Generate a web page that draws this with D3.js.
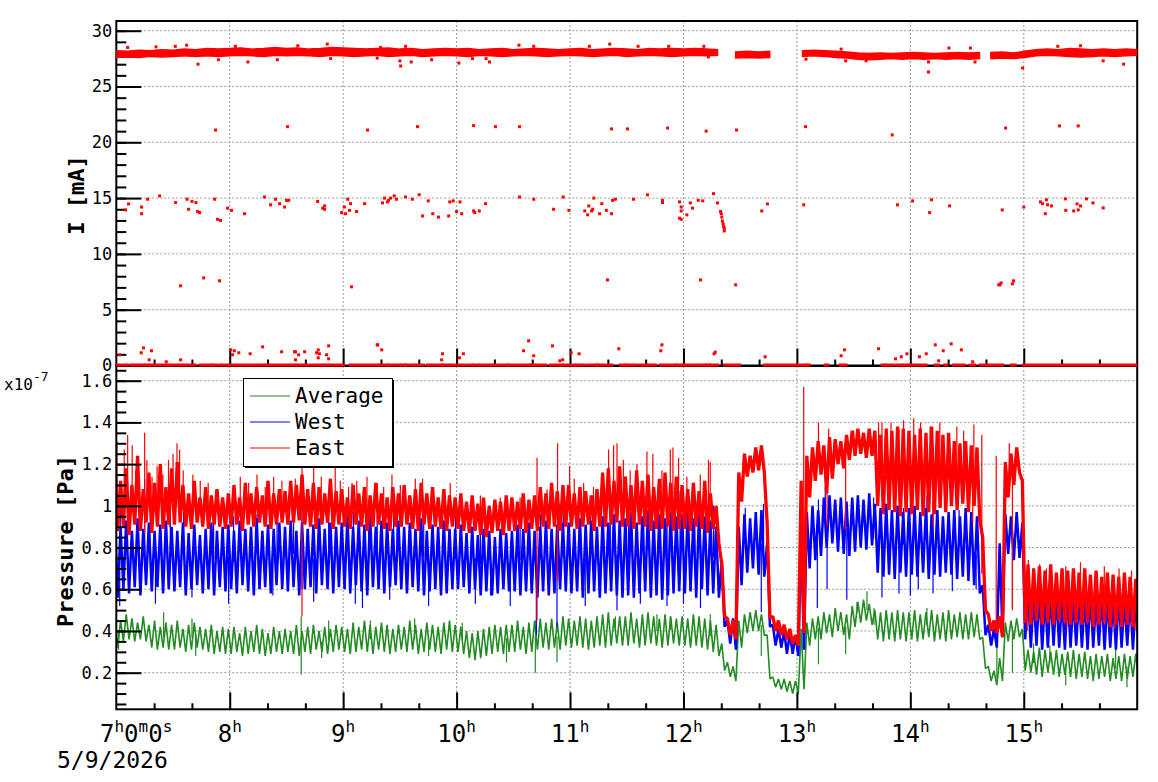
<!DOCTYPE html>
<meta charset="utf-8">
<head>
<style>
  body { margin: 0; background: #fff; }
  text { font-family: "DejaVu Sans Mono", monospace; fill: #000; }
  .grid line { stroke: #9a9a9a; stroke-dasharray: 2,2; stroke-width: 1; }
</style>
<script src="https://d3js.org/d3.v7.min.js"></script>
</head>
<body>
<svg id="chart" width="1158" height="782"></svg>
<script>
// ---- beam current (top pad), mA ----
// dense band near 28 mA, split where the beam was off
var bandSegs = [[7.00, 12.30], [12.46, 12.76], [13.05, 14.61], [14.71, 16.00]];
var bandHi = [
  [28.2, 28.15, 28.25, 28.2, 28.3, 28.25, 28.35, 28.3, 28.4, 28.35,
   28.4, 28.45, 28.35, 28.4, 28.5, 28.4, 28.45, 28.35, 28.4, 28.5,
   28.45, 28.4, 28.35, 28.4, 28.45, 28.35, 28.4, 28.3, 28.35, 28.4,
   28.35, 28.4, 28.3, 28.35, 28.4, 28.3, 28.35, 28.4, 28.35, 28.3,
   28.35, 28.4, 28.3, 28.35, 28.4, 28.35, 28.3, 28.4, 28.35, 28.4,
   28.35, 28.4, 28.35, 28.3],
  [28.1, 28.15, 28.1, 28.15],
  [28.2, 28.25, 28.2, 28.15, 28.1, 28.0, 27.95, 28.0, 27.95, 28.0, 28.05, 28.0, 27.95, 28.0, 28.05, 28.0, 28.05],
  [28.05, 28.1, 28.0, 28.15, 28.3, 28.35, 28.3, 28.4, 28.35, 28.3, 28.35, 28.3, 28.35, 28.3]
];
var bandLo = [
  [27.6, 27.65, 27.6, 27.7, 27.65, 27.7, 27.75, 27.7, 27.75, 27.7,
   27.75, 27.8, 27.75, 27.7, 27.8, 27.75, 27.8, 27.75, 27.7, 27.8,
   27.75, 27.7, 27.75, 27.8, 27.7, 27.75, 27.8, 27.7, 27.75, 27.8,
   27.75, 27.7, 27.8, 27.75, 27.7, 27.75, 27.8, 27.75, 27.7, 27.75,
   27.8, 27.75, 27.7, 27.75, 27.8, 27.7, 27.75, 27.8, 27.75, 27.7,
   27.75, 27.8, 27.75, 27.8],
  [27.55, 27.6, 27.55, 27.6],
  [27.7, 27.75, 27.7, 27.6, 27.55, 27.45, 27.4, 27.45, 27.5, 27.45, 27.5, 27.45, 27.5, 27.45, 27.5, 27.45, 27.5],
  [27.5, 27.55, 27.5, 27.6, 27.75, 27.8, 27.75, 27.7, 27.65, 27.7, 27.75, 27.7, 27.75, 27.8]
];
// runs of readings sitting at 0 mA [from, to] in hours
var zeroRuns = [[7.006,7.035],[7.064,7.094],[7.123,7.182],[7.205,7.241],[7.256,7.276],[7.294,7.461],[7.476,7.696],[7.740,7.829],[7.844,7.888],[7.917,7.990],[8.005,8.298],[8.313,8.578],[8.593,8.681],[8.710,8.827],[8.842,9.004],[9.063,9.303],[9.321,9.386],[9.400,9.444],[9.468,9.504],[9.518,9.548],[9.556,9.621],[9.636,9.709],[9.744,9.871],[9.880,9.929],[9.944,9.980],[10.009,10.062],[10.092,10.136],[10.156,10.194],[10.209,10.312],[10.332,10.444],[10.458,10.634],[10.650,10.782],[10.826,10.929],[10.943,11.046],[11.055,11.119],[11.149,11.237],[11.243,11.311],[11.340,11.370],[11.443,11.487],[11.496,11.590],[11.619,11.654],[11.672,11.701],[11.722,11.751],[11.795,11.890],[11.913,11.937],[11.948,11.972],[11.987,12.001],[12.016,12.148],[12.163,12.192],[12.201,12.230],[12.236,12.301],[12.362,12.495],[12.715,13.074],[13.089,13.109],[13.250,13.274],[13.383,13.433],[13.750,13.779],[13.794,13.852],[13.882,13.926],[13.940,13.970],[13.984,14.014],[14.035,14.138],[14.220,14.249],[14.302,14.323],[14.381,14.475],[14.528,14.566],[14.616,14.816],[14.890,14.925],[14.998,16.0]];
// single readings away from the band [hour, mA]
var currentPts = [
  [7.72,27.0],[7.90,27.4],[8.16,27.2],[8.42,27.4],[8.89,27.5],[7.10,28.5],[7.52,28.6],[7.62,28.7],[8.86,28.8],[9.30,27.55],[9.507,26.84],[9.50,27.3],[9.60,27.2],[9.78,27.4],[10.02,27.1],[10.14,27.5],[10.26,27.5],[10.29,27.2],[9.33,28.5],[9.55,28.6],[10.55,28.7],[10.68,28.6],[11.17,28.6],[11.35,28.8],[11.87,28.6],[12.18,28.6],[12.22,27.65],[13.08,27.45],[13.39,28.35],[13.43,27.3],[13.61,27.3],[14.16,27.2],[14.16,26.3],[14.34,28.45],[14.53,28.45],[14.57,27.2],[14.99,26.66],[15.70,27.3],[15.88,27.0],[7.35,28.55],[8.05,28.6],[8.6,28.65],[11.6,28.6],[15.3,28.6],[15.5,28.65],
  [7.875,21.1],[8.51,21.4],[9.215,21.1],[9.656,21.4],[10.15,21.5],[10.343,21.4],[10.555,21.4],[11.366,21.2],[11.506,21.2],[11.86,21.28],[12.20,21.0],[12.468,21.1],[13.076,21.4],[13.84,20.66],[14.84,21.28],[15.315,21.47],[15.48,21.47],
  [7.082,13.94],[7.108,14.48],[7.223,14.2],[7.223,13.6],[7.276,14.9],[7.382,15.2],[7.523,14.6],[7.623,14.9],[7.637,14.0],[7.667,14.7],[7.702,14.6],[7.717,13.8],[7.734,13.7],[7.867,14.9],[7.893,13.1],[7.919,13.0],[7.981,14.1],[8.016,13.9],[8.131,13.6],[8.307,15.1],[8.36,14.4],[8.404,14.9],[8.44,14.5],[8.484,14.2],[8.50,14.8],[8.52,14.8],[8.775,14.7],[8.82,14.1],[8.836,14.3],[8.836,14.0],[8.986,13.7],[9.01,14.2],[9.02,13.6],[9.04,14.9],[9.056,13.9],[9.065,14.5],[9.118,13.8],[9.189,14.5],
  [9.347,14.57],[9.365,15.0],[9.39,14.66],[9.40,14.8],[9.418,15.0],[9.45,15.2],[9.47,14.9],[9.55,15.1],[9.61,14.9],[9.67,15.3],[9.70,13.4],[9.75,14.75],[9.79,13.6],[9.84,13.3],[9.93,13.4],[9.94,14.66],[9.97,14.75],[10.0,13.8],[10.03,14.66],[10.045,13.6],[10.15,13.85],[10.16,13.7],[10.20,13.85],[10.255,14.5],[10.555,15.1],[10.68,14.9],[10.855,14.0],[10.94,15.1],[10.99,13.9],[11.13,13.85],[11.155,13.5],[11.165,14.3],[11.19,13.85],[11.20,14.0],[11.21,15.0],[11.26,13.6],[11.28,14.5],[11.32,13.9],[11.366,13.6],[11.375,14.8],[11.40,14.9],
  [11.56,14.9],[11.683,15.3],[11.815,14.8],[11.815,14.6],[11.965,14.66],[11.965,13.2],[11.98,14.2],[11.98,13.85],[11.98,13.1],[12.03,13.5],[12.06,14.57],[12.08,14.1],[12.13,14.8],[12.17,14.75],[12.265,15.4],[12.30,14.57],
  [12.327,13.8],[12.333,13.6],[12.338,13.3],[12.343,12.95],[12.349,12.7],[12.354,12.45],[12.36,12.3],[12.36,12.06],
  [12.69,13.85],[12.74,14.48],[13.06,14.4],
  [13.887,14.4],[14.02,14.75],[14.187,14.85],[14.17,13.7],[14.346,14.3],[14.81,13.94],[15.0,14.2],[15.147,14.66],[15.165,14.5],[15.2,14.85],[15.21,14.4],[15.19,13.6],[15.245,14.3],[15.367,14.93],[15.37,13.9],[15.44,13.85],[15.47,14.48],[15.5,14.3],[15.48,13.94],[15.553,14.93],[15.61,14.57],[15.70,14.12],
  [7.567,7.14],[7.77,7.85],[7.91,7.59],[9.074,7.05],[11.33,7.67],[12.15,7.67],[12.46,7.23],[14.78,7.23],[14.79,7.23],[14.80,7.4],[14.90,7.32],[14.91,7.59],
  [7.03,0.96],[7.24,1.58],[7.22,1.14],[7.31,1.32],[7.29,0.51],[7.44,0.33],[7.567,0.51],[8.008,1.4],[8.025,0.96],[8.04,1.32],[8.08,1.14],[8.18,1.05],[8.29,1.67],[8.457,1.23],[8.571,1.23],[8.58,1.23],[8.607,0.96],[8.58,0.51],[8.66,1.23],[8.766,1.14],[8.78,1.4],[8.79,1.05],[8.78,0.69],[8.854,0.96],[8.872,1.76],[8.872,0.6],[9.30,1.85],[9.305,1.85],[9.34,1.4],[9.876,1.05],[9.868,0.51],[10.026,0.69],[10.06,1.05],[10.59,1.32],[10.635,2.21],[10.68,0.87],[10.845,1.76],[10.91,0.42],[10.935,0.51],[11.01,1.14],[11.08,1.05],[11.43,1.5],[11.81,1.85],[11.80,1.32],[12.27,1.05],[12.28,1.2],[12.72,0.78],[13.39,0.87],[13.42,1.4],[13.72,1.5],[13.87,0.6],[13.92,0.78],[13.97,1.05],[14.08,0.78],[14.14,1.05],[14.22,1.85],[14.25,0.42],[14.29,1.32],[14.36,1.94],[14.45,1.4],[14.55,0.33]
];

// ---- pressure (bottom pad), units of 1e-9 Pa (axis shows x1e-7) ----
// highest and lowest reading in each 3-minute slice, 7:00 to 16:00
var pStart = 7, pStep = 0.05;
var eastHi = [122,112,118,110,124,108,116,111,120,109, 118,121,110,106,112,104,109,105,108,104,
  106,110,104,111,106,109,105,112,106,108, 107,112,110,115,108,111,109,106,113,107,
  108,104,110,106,109,105,111,106,104,109, 106,110,105,108,111,106,109,104,108,105,
  104,106,102,105,101,104,100,103,102,105, 104,102,106,103,105,109,106,111,107,110,
  110,106,109,107,105,108,116,118,112,119, 114,110,117,112,115,109,113,116,111,114,
  110,108,111,107,112,106,100,72,46,45, 116,125,124,128,129,92,47,45,43,41,
  38,112,124,128,131,129,133,132,131,134, 136,137,135,137,136,134,137,136,138,137,
  136,134,137,135,138,136,134,135,131,130, 131,129,128,85,48,45,47,121,125,128,
  112,72,70,71,69,72,68,70,69,70, 68,70,67,69,66,68,67,66,68,66,65];
var eastLo = [88,90,86,91,88,92,87,90,89,91, 91,92,90,89,92,90,89,91,90,89,
  90,91,88,91,90,92,90,89,91,92, 91,92,93,91,90,89,91,92,89,91,
  90,89,91,90,88,90,91,89,88,90, 90,91,89,88,91,89,90,89,88,90,
  89,88,87,88,86,85,87,88,86,88, 88,89,87,89,88,90,89,90,88,90,
  90,89,90,91,88,90,90,91,92,90, 90,89,91,90,88,89,89,90,88,89,
  89,88,90,89,87,89,82,47,38,36, 102,114,116,117,116,46,40,38,36,34,
  33,39,104,112,115,106,113,120,118,122, 124,125,123,124,100,96,98,97,95,97,
  96,98,95,97,96,99,97,100,98,101, 97,100,93,50,40,39,37,104,110,116,
  44,43,45,43,44,43,45,44,43,44, 43,44,42,43,44,42,43,42,43,42,42];
var westHi = [95,90,93,88,94,89,92,88,91,93, 90,88,92,87,91,86,89,92,88,90,
  91,88,93,89,90,94,88,91,89,92, 90,93,88,92,89,91,94,89,92,90,
  92,95,90,93,91,96,90,93,92,89, 93,90,92,89,94,88,91,90,93,89,
  89,91,87,90,86,89,88,85,89,87, 88,91,89,92,88,90,93,89,91,92,
  92,89,94,91,93,90,95,92,96,93, 94,97,92,95,98,93,96,94,97,95,
  96,98,94,97,95,93,90,74,45,46, 90,96,94,97,98,82,43,41,40,39,
  38,86,97,100,98,104,105,103,104,102, 104,105,103,106,101,99,101,98,100,97,
  99,100,97,99,96,98,95,97,98,95, 99,97,95,62,43,41,82,96,95,97,
  92,58,57,59,56,58,57,56,58,56, 57,56,58,55,57,56,55,57,55,56,55];
var westLo = [56,60,58,61,57,62,59,61,58,60, 59,61,57,60,62,58,60,57,61,59,
  60,58,62,59,57,60,61,58,62,60, 59,61,57,60,61,58,62,60,58,61,
  60,58,62,59,57,61,60,58,61,62, 60,58,61,59,57,59,60,57,58,60,
  60,61,58,60,57,59,57,58,60,59, 59,57,59,58,56,59,57,58,60,59,
  58,59,56,58,59,56,58,59,57,56, 57,56,58,59,56,57,55,57,58,59,
  58,59,56,60,57,58,56,42,34,31, 62,68,70,67,66,42,33,32,29,29,
  28,31,70,74,76,80,82,78,77,76, 78,80,79,81,68,66,67,65,68,66,
  67,66,68,65,67,66,68,67,65,66, 64,62,58,38,33,32,38,77,74,75,
  36,32,33,31,32,33,32,31,32,33, 32,31,32,33,31,32,31,32,33,31,32];
var avgHi = [47,45,48,46,44,47,43,45,42,44, 43,45,41,43,44,42,41,43,40,42,
  41,42,39,42,40,43,41,39,42,40, 41,40,43,40,42,43,40,42,41,43,
  42,41,44,42,45,43,42,44,43,41, 43,42,45,43,41,44,43,42,44,45,
  43,42,40,39,40,41,42,43,42,43, 43,45,42,44,45,46,44,46,44,47,
  46,45,47,46,45,47,48,49,46,47, 47,49,46,48,49,47,46,48,47,46,
  47,46,48,47,46,45,43,34,25,23, 45,48,49,50,48,38,18,17,17,16,
  16,41,44,46,47,49,48,51,49,48, 52,54,55,53,50,49,50,49,50,49,
  49,50,48,49,50,48,49,50,48,49, 48,49,48,37,23,21,27,44,45,46,
  41,31,30,32,31,30,31,29,30,31, 29,30,28,29,28,29,27,28,29,28,29];
var avgLo = [32,35,36,35,36,35,32,31,32,31, 31,32,30,31,32,31,30,29,30,29,
  29,30,28,29,30,29,28,29,30,29, 30,29,28,30,29,31,30,29,30,31,
  30,29,30,31,30,29,31,30,29,30, 31,30,31,29,30,31,30,29,31,30,
  30,29,27,26,27,28,29,30,29,30, 30,31,29,30,31,32,31,32,31,33,
  32,33,32,31,32,33,32,33,34,33, 33,34,32,33,34,33,32,33,34,33,
  33,32,33,32,31,30,28,21,18,16, 32,39,40,40,38,17,13,12,11,10,
  10,12,33,36,36,39,37,40,38,36, 42,44,45,43,36,35,36,35,36,35,
  36,35,36,37,35,36,35,36,37,36, 36,37,36,22,16,14,16,35,36,37,
  21,20,19,18,20,19,18,19,18,17, 18,17,16,17,18,16,17,16,17,18,17];
// isolated excursions beyond the dense band [hour, value]
var eastSpikes = [[7.006,131],[7.07,127],[7.10,134],[7.14,129],[7.17,117],[7.25,135],[7.27,122],[7.315,114],[7.36,119],[7.41,115],[7.46,122],[7.50,125],[7.535,130],[7.558,127],[7.59,117],[7.675,115],[7.74,112],[7.81,111],[7.90,107],[8.034,109],[8.093,114],[8.167,111],[8.24,115],[8.313,109],[8.387,114],[8.46,112],[8.534,109],[8.578,113],[8.637,125],[8.74,125],[8.807,114],[8.93,119],[8.975,112],[9.048,109],[9.078,111],[9.12,112],[9.21,114],[9.30,111],[9.357,109],[9.43,115],[9.504,110],[9.636,113],[9.70,113],[9.797,109],[9.944,111],[10.21,105],[10.385,104],[10.56,104],[10.709,123],[10.797,108],[10.89,130],[10.996,119],[11.037,113],[11.12,111],[11.207,109],[11.34,127],[11.384,129],[11.414,130],[11.47,122],[11.53,117],[11.59,120],[11.678,126],[11.73,125],[11.81,117],[11.884,127],[11.907,128],[11.957,123],[12.03,114],[12.148,115],[12.22,122],[12.236,121],[12.69,127],[13.06,157],[13.19,140],[13.28,137],[13.50,136],[13.72,140],[13.75,140],[13.83,140],[13.90,137],[13.94,141],[14.03,142],[14.09,140],[14.175,138],[14.26,140],[14.41,138],[14.47,136],[14.56,139],[14.63,134],[14.757,124],[14.872,130],[14.95,125],[15.04,74],[15.14,72],[15.2,70],[15.37,71],[15.5,73],[15.71,71],[15.84,70],[15.95,69],
  [7.25,87],[7.47,90],[8.637,47],[10.709,45],[10.89,64],[13.266,90],[13.43,88],[14.2,90],[14.55,92],[14.90,50],[15.03,40],[15.38,42],[15.8,41],[15.98,40]];
var westSpikes = [[7.035,100],[7.25,113],[7.476,96],[7.593,97],[7.858,95],[8.034,95],[8.24,96],[8.417,93],[8.563,96],[8.637,101],[8.872,95],[9.09,97],[9.225,101],[9.30,95],[9.445,96],[9.475,100],[9.71,97],[9.99,98],[10.21,93],[10.56,97],[10.74,96],[10.94,100],[11.18,99],[11.355,97],[11.516,101],[11.65,99],[11.855,101],[11.97,107],[12.10,98],[12.265,100],[12.545,99],[12.706,101],[13.19,103],[13.25,109],[13.676,104],[13.94,99],[14.146,105],[14.20,102],[14.43,98],[14.90,90],
  [7.03,52],[7.345,53],[7.667,56],[7.99,53],[8.38,57],[8.637,60],[8.74,54],[9.107,53],[9.41,55],[9.17,51],[9.753,52],[10.165,53],[10.30,57],[10.473,52],[10.703,38],[10.885,42],[11.134,52],[11.414,50],[11.62,53],[11.855,52],[12.0,53],[12.15,51],[12.686,49],[13.05,68],[13.18,51],[13.266,60],[13.44,55],[13.75,56],[13.90,58],[14.0,57],[14.07,60],[14.2,58],[14.37,59],[14.58,60],[14.90,51]];
var avgSpikes = [[7.417,49],[7.667,46],[8.63,47],[8.872,45],[9.24,45],[9.63,46],[10.05,44],[10.70,45],[11.40,47],[11.766,48],[11.884,47],[12.236,48],[13.618,59],[13.53,54],[13.68,51],[14.146,51],[14.763,45],[15.086,34],[15.23,33],[15.81,33],
  [7.02,31],[7.7,28],[8.63,19],[8.81,27],[9.753,28],[10.44,25],[10.694,20],[10.885,25],[12.686,28],[13.19,24],[13.43,29],[14.90,20],[15.37,14],[15.91,13]];

var hourTicks = [8, 9, 10, 11, 12, 13, 14, 15];
var currentTicks = [0, 5, 10, 15, 20, 25, 30];
var pressureTicks = [20, 40, 60, 80, 100, 120, 140, 160];
var seriesNames = ["Average", "West", "East"];
var seriesColors = ["#228b22", "#0000ff", "#ff0000"];
var seriesWidths = [1.6, 2.5, 3.3];

// ---- layout ----
var svg = d3.select("#chart");
var x = d3.scaleLinear().domain([7, 16]).range([116.3, 1137.2]);
var yI = d3.scaleLinear().domain([0, 30.87]).range([365.5, 21]);
var yP = d3.scaleLinear().domain([2.45, 167.05]).range([709.3, 366]);
var minorHours = d3.range(7, 16.001, 1 / 3).filter(function (h) { return Math.abs(h - Math.round(h)) > 0.01; });

svg.append("rect").attr("width", 1158).attr("height", 782).attr("fill", "#fff");

var defs = svg.append("defs");
defs.append("clipPath").attr("id", "clipTop").append("rect")
  .attr("x", x(7)).attr("y", yI(30.87)).attr("width", x(16) - x(7)).attr("height", yI(0) - yI(30.87) + 3);
defs.append("clipPath").attr("id", "clipBot").append("rect")
  .attr("x", x(7)).attr("y", yP(167.05)).attr("width", x(16) - x(7)).attr("height", yP(2.45) - yP(167.05));

// grids
var grid = svg.append("g").attr("class", "grid");
hourTicks.forEach(function (h) {
  grid.append("line").attr("x1", x(h)).attr("x2", x(h)).attr("y1", yI(30.87)).attr("y2", yI(0));
  grid.append("line").attr("x1", x(h)).attr("x2", x(h)).attr("y1", yP(167.05)).attr("y2", yP(2.45));
});
currentTicks.slice(1).forEach(function (v) {
  grid.append("line").attr("x1", x(7)).attr("x2", x(16)).attr("y1", yI(v)).attr("y2", yI(v));
});
pressureTicks.forEach(function (v) {
  grid.append("line").attr("x1", x(7)).attr("x2", x(16)).attr("y1", yP(v)).attr("y2", yP(v));
});

// ---- pressure series: each 3-minute slice drawn as its high then its low reading ----
var botG = svg.append("g").attr("clip-path", "url(#clipBot)");
function drawSeries(lo, hi, spikes, color, width) {
  var pts = [];
  lo.forEach(function (v, i) {
    var t = pStart + i * pStep;
    pts.push([t - pStep / 4, hi[i]]);
    pts.push([t + pStep / 4, v]);
  });
  botG.append("path").datum(pts)
    .attr("d", d3.line().x(function (d) { return x(d[0]); }).y(function (d) { return yP(d[1]); }))
    .attr("fill", "none").attr("stroke", color).attr("stroke-width", width)
    .attr("stroke-linejoin", "bevel");
  botG.append("g").selectAll("line").data(spikes).join("line")
    .attr("x1", function (d) { return x(d[0]); }).attr("x2", function (d) { return x(d[0]); })
    .attr("y1", function (d) {
      var i = Math.round((d[0] - pStart) / pStep);
      return yP((lo[i] + hi[i]) / 2);
    })
    .attr("y2", function (d) { return yP(d[1]); })
    .attr("stroke", color).attr("stroke-width", 1.2);
}
drawSeries(avgLo, avgHi, avgSpikes, seriesColors[0], seriesWidths[0]);
drawSeries(westLo, westHi, westSpikes, seriesColors[1], seriesWidths[1]);
drawSeries(eastLo, eastHi, eastSpikes, seriesColors[2], seriesWidths[2]);

// ---- axes ----
function styleAxis(g) {
  g.select(".domain").remove();
  g.selectAll(".tick line").attr("stroke", "#000").attr("stroke-width", 2);
  g.selectAll("text").attr("font-family", "DejaVu Sans Mono").attr("font-size", 17).attr("fill", "#000");
}
svg.append("g").attr("transform", "translate(" + x(7) + ",0)")
  .call(d3.axisLeft(yI).tickValues(d3.range(0, 31, 1)).tickSize(-10).tickFormat(""))
  .call(styleAxis);
svg.append("g").attr("transform", "translate(" + x(7) + ",0)")
  .call(d3.axisLeft(yI).tickValues(currentTicks).tickSize(-25).tickPadding(4).tickFormat(d3.format("d")))
  .call(styleAxis);
svg.append("g").attr("transform", "translate(" + x(7) + ",0)")
  .call(d3.axisLeft(yP).tickValues(d3.range(5, 166, 5)).tickSize(-10).tickFormat(""))
  .call(styleAxis);
svg.append("g").attr("transform", "translate(" + x(7) + ",0)")
  .call(d3.axisLeft(yP).tickValues(pressureTicks).tickSize(-25).tickPadding(4)
    .tickFormat(function (v) { return v === 100 ? "1" : String(v / 100); }))
  .call(styleAxis);
[yI(0), yP(2.45)].forEach(function (yy) {
  svg.append("g").attr("transform", "translate(0," + yy + ")")
    .call(d3.axisBottom(x).tickValues(minorHours).tickSize(-6).tickFormat(""))
    .call(styleAxis);
  svg.append("g").attr("transform", "translate(0," + yy + ")")
    .call(d3.axisBottom(x).tickValues(hourTicks).tickSize(-17).tickFormat(""))
    .call(styleAxis);
});

svg.append("rect").attr("x", x(7)).attr("y", yI(30.87)).attr("width", x(16) - x(7)).attr("height", yI(0) - yI(30.87))
  .attr("fill", "none").attr("stroke", "#000").attr("stroke-width", 2);
svg.append("rect").attr("x", x(7)).attr("y", yP(167.05)).attr("width", x(16) - x(7)).attr("height", yP(2.45) - yP(167.05))
  .attr("fill", "none").attr("stroke", "#000").attr("stroke-width", 2);

// ---- current (drawn over the shared axis line) ----
var topG = svg.append("g").attr("clip-path", "url(#clipTop)");
bandSegs.forEach(function (seg, k) {
  var n = bandHi[k].length;
  var pts = bandHi[k].map(function (v, j) {
    return { t: seg[0] + j * (seg[1] - seg[0]) / (n - 1), hi: v, lo: bandLo[k][j] };
  });
  topG.append("path").datum(pts)
    .attr("d", d3.area().x(function (d) { return x(d.t); })
      .y0(function (d) { return yI(d.lo); }).y1(function (d) { return yI(d.hi); }))
    .attr("fill", "#ff0000").attr("stroke", "#ff0000").attr("stroke-width", 1.5);
});
topG.selectAll("rect.zero").data(zeroRuns).join("rect").attr("class", "zero")
  .attr("x", function (d) { return x(d[0]) - 1.5; })
  .attr("width", function (d) { return x(d[1]) - x(d[0]) + 3; })
  .attr("y", yI(0) - 2).attr("height", 3).attr("fill", "#ff0000");
topG.selectAll("rect.pt").data(currentPts).join("rect").attr("class", "pt")
  .attr("x", function (d) { return x(d[0]) - 1.5; }).attr("y", function (d) { return yI(d[1]) - 1.5; })
  .attr("width", 3).attr("height", 3).attr("fill", "#ff0000");

// ---- x labels ----
var xl = svg.append("g");
hourTicks.forEach(function (h) {
  var t = xl.append("text").attr("x", x(h)).attr("y", 742).attr("text-anchor", "middle").attr("font-size", 24);
  t.append("tspan").text(String(h));
  t.append("tspan").attr("font-size", 16).attr("dy", -10).text("h");
});
var t0 = xl.append("text").attr("x", 100).attr("y", 742).attr("font-size", 24);
t0.append("tspan").text("7");
t0.append("tspan").attr("font-size", 16).attr("dy", -10).text("h");
t0.append("tspan").attr("dy", 10).text("0");
t0.append("tspan").attr("font-size", 16).attr("dy", -10).text("m");
t0.append("tspan").attr("dy", 10).text("0");
t0.append("tspan").attr("font-size", 16).attr("dy", -10).text("s");
xl.append("text").attr("x", 57).attr("y", 768).attr("font-size", 23).text("5/9/2026");

// ---- y titles ----
svg.append("text").attr("transform", "translate(84,195) rotate(-90)").attr("text-anchor", "middle")
  .attr("font-size", 22).attr("font-weight", "bold").text("I [mA]");
svg.append("text").attr("transform", "translate(73,541) rotate(-90)").attr("text-anchor", "middle")
  .attr("font-size", 22).attr("font-weight", "bold").text("Pressure [Pa]");
var ex = svg.append("text").attr("x", 4).attr("y", 390).attr("font-size", 16);
ex.append("tspan").text("x10");
ex.append("tspan").attr("font-size", 13).attr("dy", -9).text("-7");

// ---- legend ----
var lg = svg.append("g");
lg.append("rect").attr("x", 245).attr("y", 380).attr("width", 149).attr("height", 88).attr("fill", "#000");
lg.append("rect").attr("x", 243.5).attr("y", 378.5).attr("width", 149).attr("height", 88)
  .attr("fill", "#fff").attr("stroke", "#000").attr("stroke-width", 1);
seriesNames.forEach(function (name, i) {
  var yy = 396 + i * 26;
  lg.append("line").attr("x1", 250).attr("x2", 290).attr("y1", yy).attr("y2", yy)
    .attr("stroke", seriesColors[i]).attr("stroke-width", 1);
  lg.append("text").attr("x", 295).attr("y", yy + 7).attr("font-size", 21).text(name);
});
</script>
</body>
